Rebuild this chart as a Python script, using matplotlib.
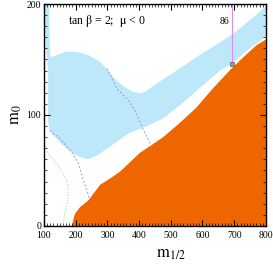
import matplotlib
matplotlib.use('Agg')
import matplotlib.pyplot as plt
from matplotlib.ticker import MultipleLocator

plt.rcParams['font.family'] = ['Liberation Serif', 'DejaVu Serif']
plt.rcParams['mathtext.fontset'] = 'stix'

# blue (cosmologically preferred) region outline, m_1/2 vs m_0
blue_m12 = [104, 116, 118, 120, 140, 170, 203, 240, 277, 300, 329, 355, 381, 403, 420, 434,
            480, 529, 580, 633, 680, 718, 760, 800,
            800, 792, 740, 692, 655, 582, 530, 476, 434, 400, 371, 340, 308, 270, 240,
            224, 200, 170, 145, 125, 117, 113, 113, 110, 106, 104]
blue_m0 = [200, 200, 170, 152, 154, 157, 157, 154, 148, 141, 131, 125, 121, 119.5, 121, 124,
           133, 142, 152, 161.5, 170, 178, 188, 198,
           171, 169, 158, 146, 140, 122, 109, 97, 91, 87, 84, 78, 71.5, 64, 60,
           61, 64, 70, 77, 83, 87, 95, 140, 150, 160, 180]

# orange (charged LSP) region boundary
orange_m12 = [188, 192, 198, 214, 240, 277, 310, 340, 370, 403, 440, 476, 529, 582, 633,
              692, 740, 771, 800]
orange_m0 = [0, 5, 11, 17, 23, 37, 43, 49, 57, 66, 73, 80, 93, 107, 124, 142, 155, 163, 168]

# dashed blue contours
dash1_m12 = [119, 130, 145, 187, 208, 224, 237, 242]
dash1_m0 = [86, 83, 80.5, 67, 56.5, 41.5, 31, 25]
dash2_m12 = [298, 330, 370, 392, 413, 434, 442]
dash2_m0 = [142, 124, 112, 101, 87, 75, 70]

# green dotted contour
green_m12 = [108, 130, 150, 165, 172, 177, 176, 170, 166, 162, 161]
green_m0 = [67, 60, 52, 45, 41, 34, 25, 17, 12, 5, 0]

# Higgs mass line and point
higgs_m12 = [694, 694]
higgs_m0 = [200, 146]
point_m12 = [692]
point_m0 = [146]

fig = plt.figure(figsize=(2.73, 2.68), dpi=100)
ax = fig.add_axes([0.161, 0.157, 0.813, 0.828])

ax.fill(blue_m12, blue_m0, color='#bde8fa', lw=0)
ax.fill(orange_m12 + [800], orange_m0 + [0], color='#ee6600', lw=0)
ax.plot(dash1_m12, dash1_m0, color='#8c9cf0', lw=0.7, ls=(0, (2, 2)))
ax.plot(dash2_m12, dash2_m0, color='#8c9cf0', lw=0.7, ls=(0, (2, 2)))
ax.plot(green_m12, green_m0, color='#a6e896', lw=0.8, ls=(0, (1, 1.5)))
ax.plot(higgs_m12, higgs_m0, color='#d890f5', lw=0.8)
ax.plot(point_m12, point_m0, marker='s', ms=2.5, color='#999999', mec='#444444', mew=0.4, ls='none')
ax.text(668, 184, '86', fontsize=7, ha='center', va='center')

ax.text(0.285, 0.925, r'tan $\mathrm{\beta}$ = 2;  $\mathrm{\mu}$ < 0', transform=ax.transAxes,
        ha='center', va='center', fontsize=8.6)

ax.set_xlim(100, 800)
ax.set_ylim(0, 200)
ax.xaxis.set_major_locator(MultipleLocator(100))
ax.xaxis.set_minor_locator(MultipleLocator(10))
ax.yaxis.set_major_locator(MultipleLocator(100))
ax.yaxis.set_minor_locator(MultipleLocator(10))
ax.tick_params(which='both', direction='in', top=True, right=True, labelsize=7, pad=2)
ax.tick_params(axis='x', which='major', pad=3.5)
ax.tick_params(which='major', length=4, width=0.8)
ax.tick_params(which='minor', length=2, width=0.5)
for s in ax.spines.values():
    s.set_linewidth(1.0)

ax.set_xlabel(r'$\mathrm{m}_{1/2}$', fontsize=12, labelpad=4)
ax.xaxis.set_label_coords(0.57, -0.09)
ax.set_ylabel(r'$\mathrm{m}_0$', fontsize=12, labelpad=2)

fig.savefig('out.png', dpi=100)
